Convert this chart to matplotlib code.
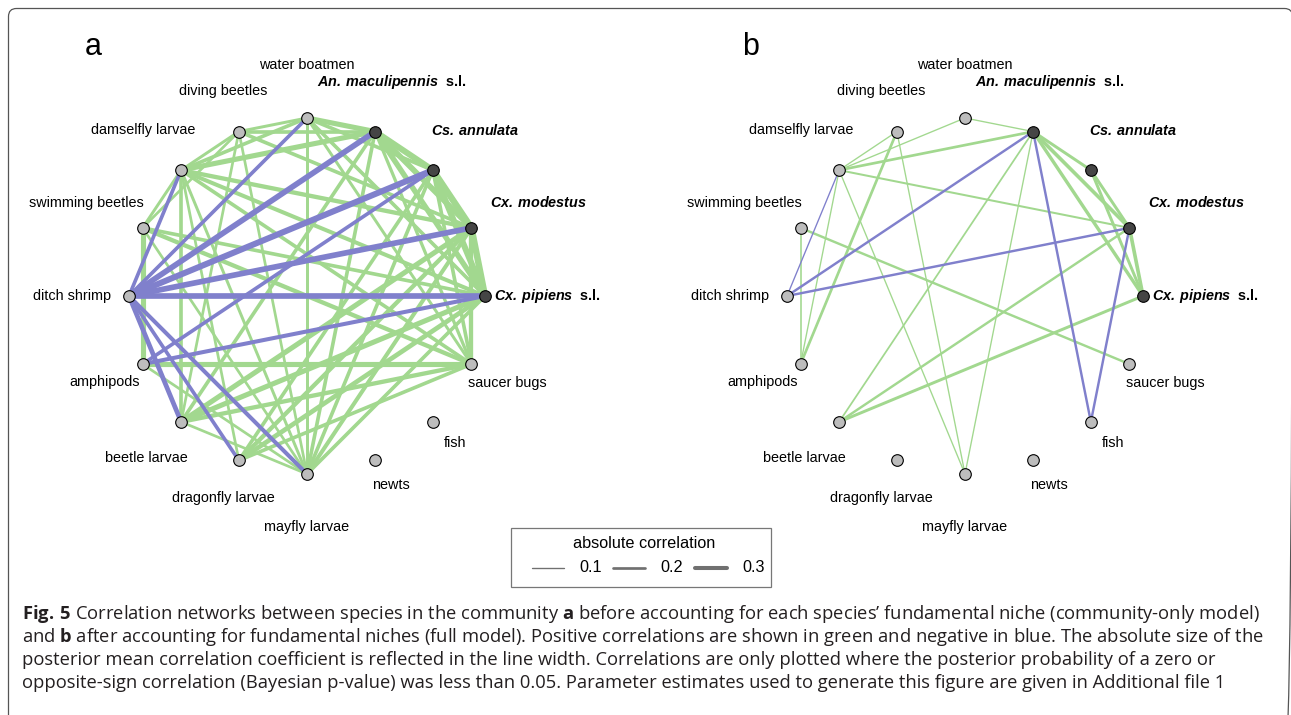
import numpy as np
import matplotlib

matplotlib.use("Agg")
import matplotlib.pyplot as plt
from matplotlib.patches import FancyBboxPatch, Rectangle

# species in circle order, starting at 0 degrees and going anticlockwise
species = [
    "Cx. pipiens", "Cx. modestus", "Cs. annulata", "An. maculipennis",
    "water boatmen", "diving beetles", "damselfly larvae", "swimming beetles",
    "ditch shrimp", "amphipods", "beetle larvae", "dragonfly larvae",
    "mayfly larvae", "newts", "fish", "saucer bugs",
]
mosquitoes = ["Cx. pipiens", "Cx. modestus", "Cs. annulata", "An. maculipennis"]
suffix = {"Cx. pipiens": "s.l.", "An. maculipennis": "s.l."}

# panel a: community-only model (species 1, species 2, posterior mean correlation)
edges_a = [
    ("An. maculipennis", "Cs. annulata", 0.45),
    ("An. maculipennis", "Cx. modestus", 0.42),
    ("An. maculipennis", "Cx. pipiens", 0.4),
    ("Cs. annulata", "Cx. modestus", 0.48),
    ("Cs. annulata", "Cx. pipiens", 0.45),
    ("Cx. modestus", "Cx. pipiens", 0.48),
    ("water boatmen", "An. maculipennis", 0.38),
    ("water boatmen", "diving beetles", 0.22),
    ("water boatmen", "damselfly larvae", 0.27),
    ("water boatmen", "mayfly larvae", 0.22),
    ("water boatmen", "Cs. annulata", 0.27),
    ("water boatmen", "Cx. pipiens", 0.27),
    ("water boatmen", "saucer bugs", 0.22),
    ("diving beetles", "damselfly larvae", 0.22),
    ("diving beetles", "swimming beetles", 0.2),
    ("diving beetles", "An. maculipennis", 0.27),
    ("diving beetles", "beetle larvae", 0.2),
    ("diving beetles", "mayfly larvae", 0.2),
    ("diving beetles", "Cx. modestus", 0.27),
    ("damselfly larvae", "An. maculipennis", 0.38),
    ("damselfly larvae", "swimming beetles", 0.22),
    ("damselfly larvae", "beetle larvae", 0.27),
    ("damselfly larvae", "Cx. modestus", 0.32),
    ("damselfly larvae", "Cx. pipiens", 0.3),
    ("damselfly larvae", "saucer bugs", 0.27),
    ("damselfly larvae", "dragonfly larvae", 0.2),
    ("damselfly larvae", "mayfly larvae", 0.22),
    ("swimming beetles", "amphipods", 0.38),
    ("swimming beetles", "saucer bugs", 0.32),
    ("swimming beetles", "Cx. pipiens", 0.27),
    ("amphipods", "saucer bugs", 0.38),
    ("amphipods", "mayfly larvae", 0.2),
    ("beetle larvae", "An. maculipennis", 0.27),
    ("beetle larvae", "Cx. modestus", 0.38),
    ("beetle larvae", "Cx. pipiens", 0.38),
    ("beetle larvae", "mayfly larvae", 0.2),
    ("beetle larvae", "saucer bugs", 0.32),
    ("dragonfly larvae", "Cx. modestus", 0.32),
    ("dragonfly larvae", "Cx. pipiens", 0.35),
    ("dragonfly larvae", "Cs. annulata", 0.27),
    ("dragonfly larvae", "saucer bugs", 0.27),
    ("mayfly larvae", "An. maculipennis", 0.27),
    ("mayfly larvae", "Cs. annulata", 0.27),
    ("mayfly larvae", "Cx. modestus", 0.3),
    ("mayfly larvae", "Cx. pipiens", 0.27),
    ("mayfly larvae", "swimming beetles", 0.2),
    ("saucer bugs", "Cs. annulata", 0.27),
    ("saucer bugs", "Cx. modestus", 0.32),
    ("saucer bugs", "An. maculipennis", 0.24),
    ("ditch shrimp", "damselfly larvae", -0.27),
    ("ditch shrimp", "water boatmen", -0.27),
    ("ditch shrimp", "An. maculipennis", -0.42),
    ("ditch shrimp", "Cs. annulata", -0.45),
    ("ditch shrimp", "Cx. modestus", -0.42),
    ("ditch shrimp", "Cx. pipiens", -0.42),
    ("ditch shrimp", "beetle larvae", -0.35),
    ("ditch shrimp", "dragonfly larvae", -0.27),
    ("ditch shrimp", "mayfly larvae", -0.3),
    ("amphipods", "Cs. annulata", -0.27),
    ("amphipods", "Cx. pipiens", -0.3),
]

# panel b: full model
edges_b = [
    ("water boatmen", "An. maculipennis", 0.1),
    ("diving beetles", "damselfly larvae", 0.1),
    ("damselfly larvae", "water boatmen", 0.1),
    ("damselfly larvae", "An. maculipennis", 0.2),
    ("damselfly larvae", "Cx. modestus", 0.15),
    ("damselfly larvae", "amphipods", 0.1),
    ("damselfly larvae", "mayfly larvae", 0.1),
    ("diving beetles", "amphipods", 0.2),
    ("diving beetles", "mayfly larvae", 0.1),
    ("swimming beetles", "amphipods", 0.12),
    ("swimming beetles", "saucer bugs", 0.18),
    ("An. maculipennis", "Cs. annulata", 0.22),
    ("An. maculipennis", "Cx. modestus", 0.27),
    ("An. maculipennis", "Cx. pipiens", 0.25),
    ("An. maculipennis", "beetle larvae", 0.13),
    ("An. maculipennis", "mayfly larvae", 0.1),
    ("Cs. annulata", "Cx. modestus", 0.22),
    ("Cs. annulata", "Cx. pipiens", 0.22),
    ("Cx. modestus", "Cx. pipiens", 0.27),
    ("Cx. modestus", "beetle larvae", 0.18),
    ("Cx. pipiens", "beetle larvae", 0.22),
    ("damselfly larvae", "ditch shrimp", -0.1),
    ("ditch shrimp", "An. maculipennis", -0.18),
    ("ditch shrimp", "Cx. modestus", -0.18),
    ("An. maculipennis", "fish", -0.18),
    ("Cx. modestus", "fish", -0.18),
]

legend_values = [0.1, 0.2, 0.3]

# label offsets from the node, in pixels (layout only)
label_offsets = [
    (62, 0), (67, -25), (42, -40), (17, -50), (0, -53), (-16, -41), (-38, -40),
    (-56, -25), (-57, 0), (-38, 18), (-35, 36), (-16, 38), (0, 53), (16, 25),
    (22, 21), (36, 19),
]

GREEN = "#a2d88f"
BLUE = "#8080cc"
RADIUS = 178
PX_PER_CORR = 13.5

plt.rcParams["font.family"] = ["Liberation Sans", "DejaVu Sans"]
plt.rcParams["mathtext.fontset"] = "custom"
plt.rcParams["mathtext.bfit"] = "Liberation Sans:italic:bold"
plt.rcParams["mathtext.bf"] = "Open Sans:bold"
plt.rcParams["mathtext.rm"] = "Open Sans"

fig = plt.figure(figsize=(12.91, 7.15), dpi=100)
ax = fig.add_axes([0, 0, 1, 1])
ax.set_xlim(0, 1291)
ax.set_ylim(715, 0)
ax.axis("off")


def node_xy(cx, cy):
    angles = np.deg2rad(np.arange(len(species)) * 360.0 / len(species))
    return cx + RADIUS * np.cos(angles), cy - RADIUS * np.sin(angles)


def draw_network(cx, cy, edges, letter):
    xs, ys = node_xy(cx, cy)
    index = {name: i for i, name in enumerate(species)}
    ordered = [e for e in edges if e[2] > 0] + [e for e in edges if e[2] < 0]
    for a, b, corr in ordered:
        i, j = index[a], index[b]
        ax.plot([xs[i], xs[j]], [ys[i], ys[j]], color=GREEN if corr > 0 else BLUE,
                lw=abs(corr) * PX_PER_CORR * 0.72, solid_capstyle="round", zorder=2)
    for i, name in enumerate(species):
        dark = name in mosquitoes
        ax.scatter(xs[i], ys[i], s=70, color="#454545" if dark else "#bdbdbd",
                   edgecolors="black", linewidths=0.8, zorder=4)
        dx, dy = label_offsets[i]
        if dark:
            text = r"$\mathbfit{" + name.replace(" ", r"\,") + "}$"
            if name in suffix:
                text += "  " + suffix[name]
            ax.text(xs[i] + dx, ys[i] + dy, text, ha="center", va="center",
                    fontsize=10.4, fontweight="bold", zorder=5)
        else:
            ax.text(xs[i] + dx, ys[i] + dy, name, ha="center", va="center",
                    fontsize=10.4, zorder=5)
    ax.text(cx - 214, 47, letter, ha="center", va="center", fontsize=22)


draw_network(307, 296, edges_a, "a")
draw_network(965, 296, edges_b, "b")

# outer frame
ax.add_patch(FancyBboxPatch((8.5, 8.5), 1284, 760, boxstyle="round,pad=0,rounding_size=8",
                            fill=False, edgecolor="#555555", lw=0.9, zorder=1))

# legend for line widths
ax.add_patch(Rectangle((511, 528), 260, 59, fill=False, edgecolor="#777777", lw=0.9, zorder=5))
ax.text(644, 543, "absolute correlation", ha="center", va="center", fontsize=11.7)
line_starts = [532, 613, 695]
for x0, value in zip(line_starts, legend_values):
    ax.plot([x0, x0 + 32], [568, 568], color="#707070",
            lw=value * PX_PER_CORR * 0.72, solid_capstyle="round")
    ax.text(x0 + 47, 568, f"{value:.1f}", ha="left", va="center", fontsize=11.7)

# caption
caption = [
    r"$\mathbf{Fig.\,5}$ Correlation networks between species in the community $\mathbf{a}$ before accounting for each species’ fundamental niche (community-only model)",
    r"and $\mathbf{b}$ after accounting for fundamental niches (full model). Positive correlations are shown in green and negative in blue. The absolute size of the",
    "posterior mean correlation coefficient is reflected in the line width. Correlations are only plotted where the posterior probability of a zero or",
    "opposite-sign correlation (Bayesian p-value) was less than 0.05. Parameter estimates used to generate this figure are given in Additional file 1",
]
for k, line in enumerate(caption):
    ax.text(22, 614 + 23 * k, line, ha="left", va="center", fontsize=13.25,
            family=["Open Sans", "DejaVu Sans"], color="#231f20")

fig.savefig("out.png", dpi=100)
